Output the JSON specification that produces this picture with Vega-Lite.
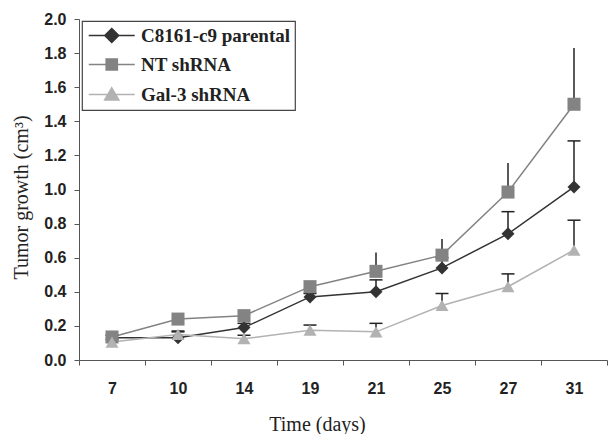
{
  "$schema": "https://vega.github.io/schema/vega-lite/v6.json",
  "width": 528,
  "height": 341,
  "autosize": {"type": "none"},
  "padding": {"left": 79, "top": 19, "right": 1, "bottom": 74},
  "background": "white",
  "config": {
    "view": {"stroke": null},
    "legend": {"strokeColor": "#444", "fillColor": "white", "strokeWidth": 1.2, "padding": 5}
  },
  "data": {
    "values": [
      {"series": "C8161-c9 parental", "day": 7, "value": 0.13, "upper": 0.145, "cap": true},
      {"series": "C8161-c9 parental", "day": 10, "value": 0.13, "upper": 0.17, "cap": true},
      {"series": "C8161-c9 parental", "day": 14, "value": 0.19, "upper": 0.215, "cap": true},
      {"series": "C8161-c9 parental", "day": 19, "value": 0.37, "upper": 0.39, "cap": true},
      {"series": "C8161-c9 parental", "day": 21, "value": 0.40, "upper": 0.47, "cap": true},
      {"series": "C8161-c9 parental", "day": 25, "value": 0.54, "upper": 0.60, "cap": true},
      {"series": "C8161-c9 parental", "day": 27, "value": 0.74, "upper": 0.87, "cap": true},
      {"series": "C8161-c9 parental", "day": 31, "value": 1.015, "upper": 1.285, "cap": true},
      {"series": "NT shRNA", "day": 7, "value": 0.135, "upper": 0.15, "cap": false},
      {"series": "NT shRNA", "day": 10, "value": 0.24, "upper": 0.275, "cap": false},
      {"series": "NT shRNA", "day": 14, "value": 0.26, "upper": 0.27, "cap": false},
      {"series": "NT shRNA", "day": 19, "value": 0.43, "upper": 0.46, "cap": false},
      {"series": "NT shRNA", "day": 21, "value": 0.52, "upper": 0.63, "cap": false},
      {"series": "NT shRNA", "day": 25, "value": 0.615, "upper": 0.71, "cap": false},
      {"series": "NT shRNA", "day": 27, "value": 0.985, "upper": 1.155, "cap": false},
      {"series": "NT shRNA", "day": 31, "value": 1.50, "upper": 1.83, "cap": false},
      {"series": "Gal-3 shRNA", "day": 7, "value": 0.105, "upper": 0.12, "cap": true},
      {"series": "Gal-3 shRNA", "day": 10, "value": 0.15, "upper": 0.165, "cap": true},
      {"series": "Gal-3 shRNA", "day": 14, "value": 0.125, "upper": 0.145, "cap": true},
      {"series": "Gal-3 shRNA", "day": 19, "value": 0.175, "upper": 0.205, "cap": true},
      {"series": "Gal-3 shRNA", "day": 21, "value": 0.165, "upper": 0.215, "cap": true},
      {"series": "Gal-3 shRNA", "day": 25, "value": 0.32, "upper": 0.39, "cap": true},
      {"series": "Gal-3 shRNA", "day": 27, "value": 0.43, "upper": 0.505, "cap": true},
      {"series": "Gal-3 shRNA", "day": 31, "value": 0.645, "upper": 0.82, "cap": true}
    ]
  },
  "encoding": {
    "x": {
      "field": "day",
      "type": "ordinal",
      "scale": {"paddingInner": 0, "paddingOuter": 0},
      "axis": {
        "title": "Time (days)",
        "titleFont": "Liberation Serif",
        "titleFontWeight": "normal",
        "titleFontSize": 20,
        "titleColor": "#222",
        "titleX": 238,
        "titleY": 70,
        "titleBaseline": "alphabetic",
        "labelAngle": 0,
        "labelFont": "Liberation Sans",
        "labelFontWeight": "bold",
        "labelFontSize": 16,
        "labelColor": "#222",
        "labelPadding": 15,
        "tickBand": "extent",
        "tickSize": 5,
        "tickColor": "#555",
        "domainColor": "#555",
        "grid": false
      }
    },
    "y": {
      "field": "value",
      "type": "quantitative",
      "scale": {"domain": [0, 2]},
      "axis": {
        "title": "Tumor growth (cm³)",
        "titleFont": "Liberation Serif",
        "titleFontWeight": "normal",
        "titleFontSize": 20,
        "titleColor": "#222",
        "titleX": -52,
        "titleY": 178,
        "titleBaseline": "alphabetic",
        "values": [0, 0.2, 0.4, 0.6, 0.8, 1.0, 1.2, 1.4, 1.6, 1.8, 2.0],
        "format": ".1f",
        "labelFont": "Liberation Sans",
        "labelFontWeight": "bold",
        "labelFontSize": 16,
        "labelColor": "#222",
        "labelPadding": 8,
        "tickSize": 5,
        "tickColor": "#555",
        "domainColor": "#555",
        "grid": false
      }
    }
  },
  "resolve": {"legend": {"color": "independent", "shape": "independent"}},
  "layer": [
    {
      "mark": {"type": "line", "strokeWidth": 1.5},
      "encoding": {
        "color": {
          "field": "series",
          "type": "nominal",
          "scale": {
            "domain": ["C8161-c9 parental", "NT shRNA", "Gal-3 shRNA"],
            "range": ["#333333", "#838383", "#b2b2b2"]
          },
          "legend": {
            "title": null,
            "orient": "none",
            "legendX": 3,
            "legendY": 2,
            "rowPadding": 9,
            "symbolSize": 196,
            "symbolStrokeWidth": 1.5,
            "labelOffset": 35,
            "labelFont": "Liberation Serif",
            "labelFontWeight": "bold",
            "labelFontSize": 19,
            "labelColor": "#222",
            "labelLimit": 300,
            "encode": {
              "legend": {
                "update": {
                  "width": {"value": 217},
                  "height": {"value": 79},
                  "stroke": {"value": "#444"},
                  "strokeWidth": {"value": 1.2},
                  "fill": {"value": "white"}
                }
              },
              "symbols": {
                "update": {
                  "shape": {"signal": "datum.value === 'C8161-c9 parental' ? 'M-1.107,0H5.46M2.18,-1L3.18,0L2.18,1L1.18,0Z' : datum.value === 'NT shRNA' ? 'M-1.107,0H5.46M1.38,-0.8H2.98V0.8H1.38Z' : 'M-1.107,0H5.46M2.18,-0.95L3.2,0.8H1.16Z'"},
                  "stroke": {"scale": "color", "field": "value"},
                  "fill": {"scale": "color", "field": "value"},
                  "strokeWidth": {"value": 1.5},
                  "opacity": {"value": 1}
                }
              }
            }
          }
        }
      }
    },
    {
      "mark": {"type": "rule", "color": "#222", "strokeWidth": 1.5},
      "encoding": {
        "y2": {"field": "upper"}
      }
    },
    {
      "transform": [{"filter": "datum.cap"}],
      "mark": {"type": "tick", "color": "#222", "size": 13, "thickness": 1.5, "opacity": 1},
      "encoding": {
        "y": {"field": "upper", "type": "quantitative"}
      }
    },
    {
      "mark": {"type": "point", "filled": true, "opacity": 1, "size": 170},
      "encoding": {
        "color": {"field": "series", "type": "nominal", "legend": null},
        "shape": {
          "field": "series",
          "type": "nominal",
          "scale": {
            "domain": ["C8161-c9 parental", "NT shRNA", "Gal-3 shRNA"],
            "range": ["diamond", "square", "triangle-up"]
          },
          "legend": null
        }
      }
    }
  ]
}
